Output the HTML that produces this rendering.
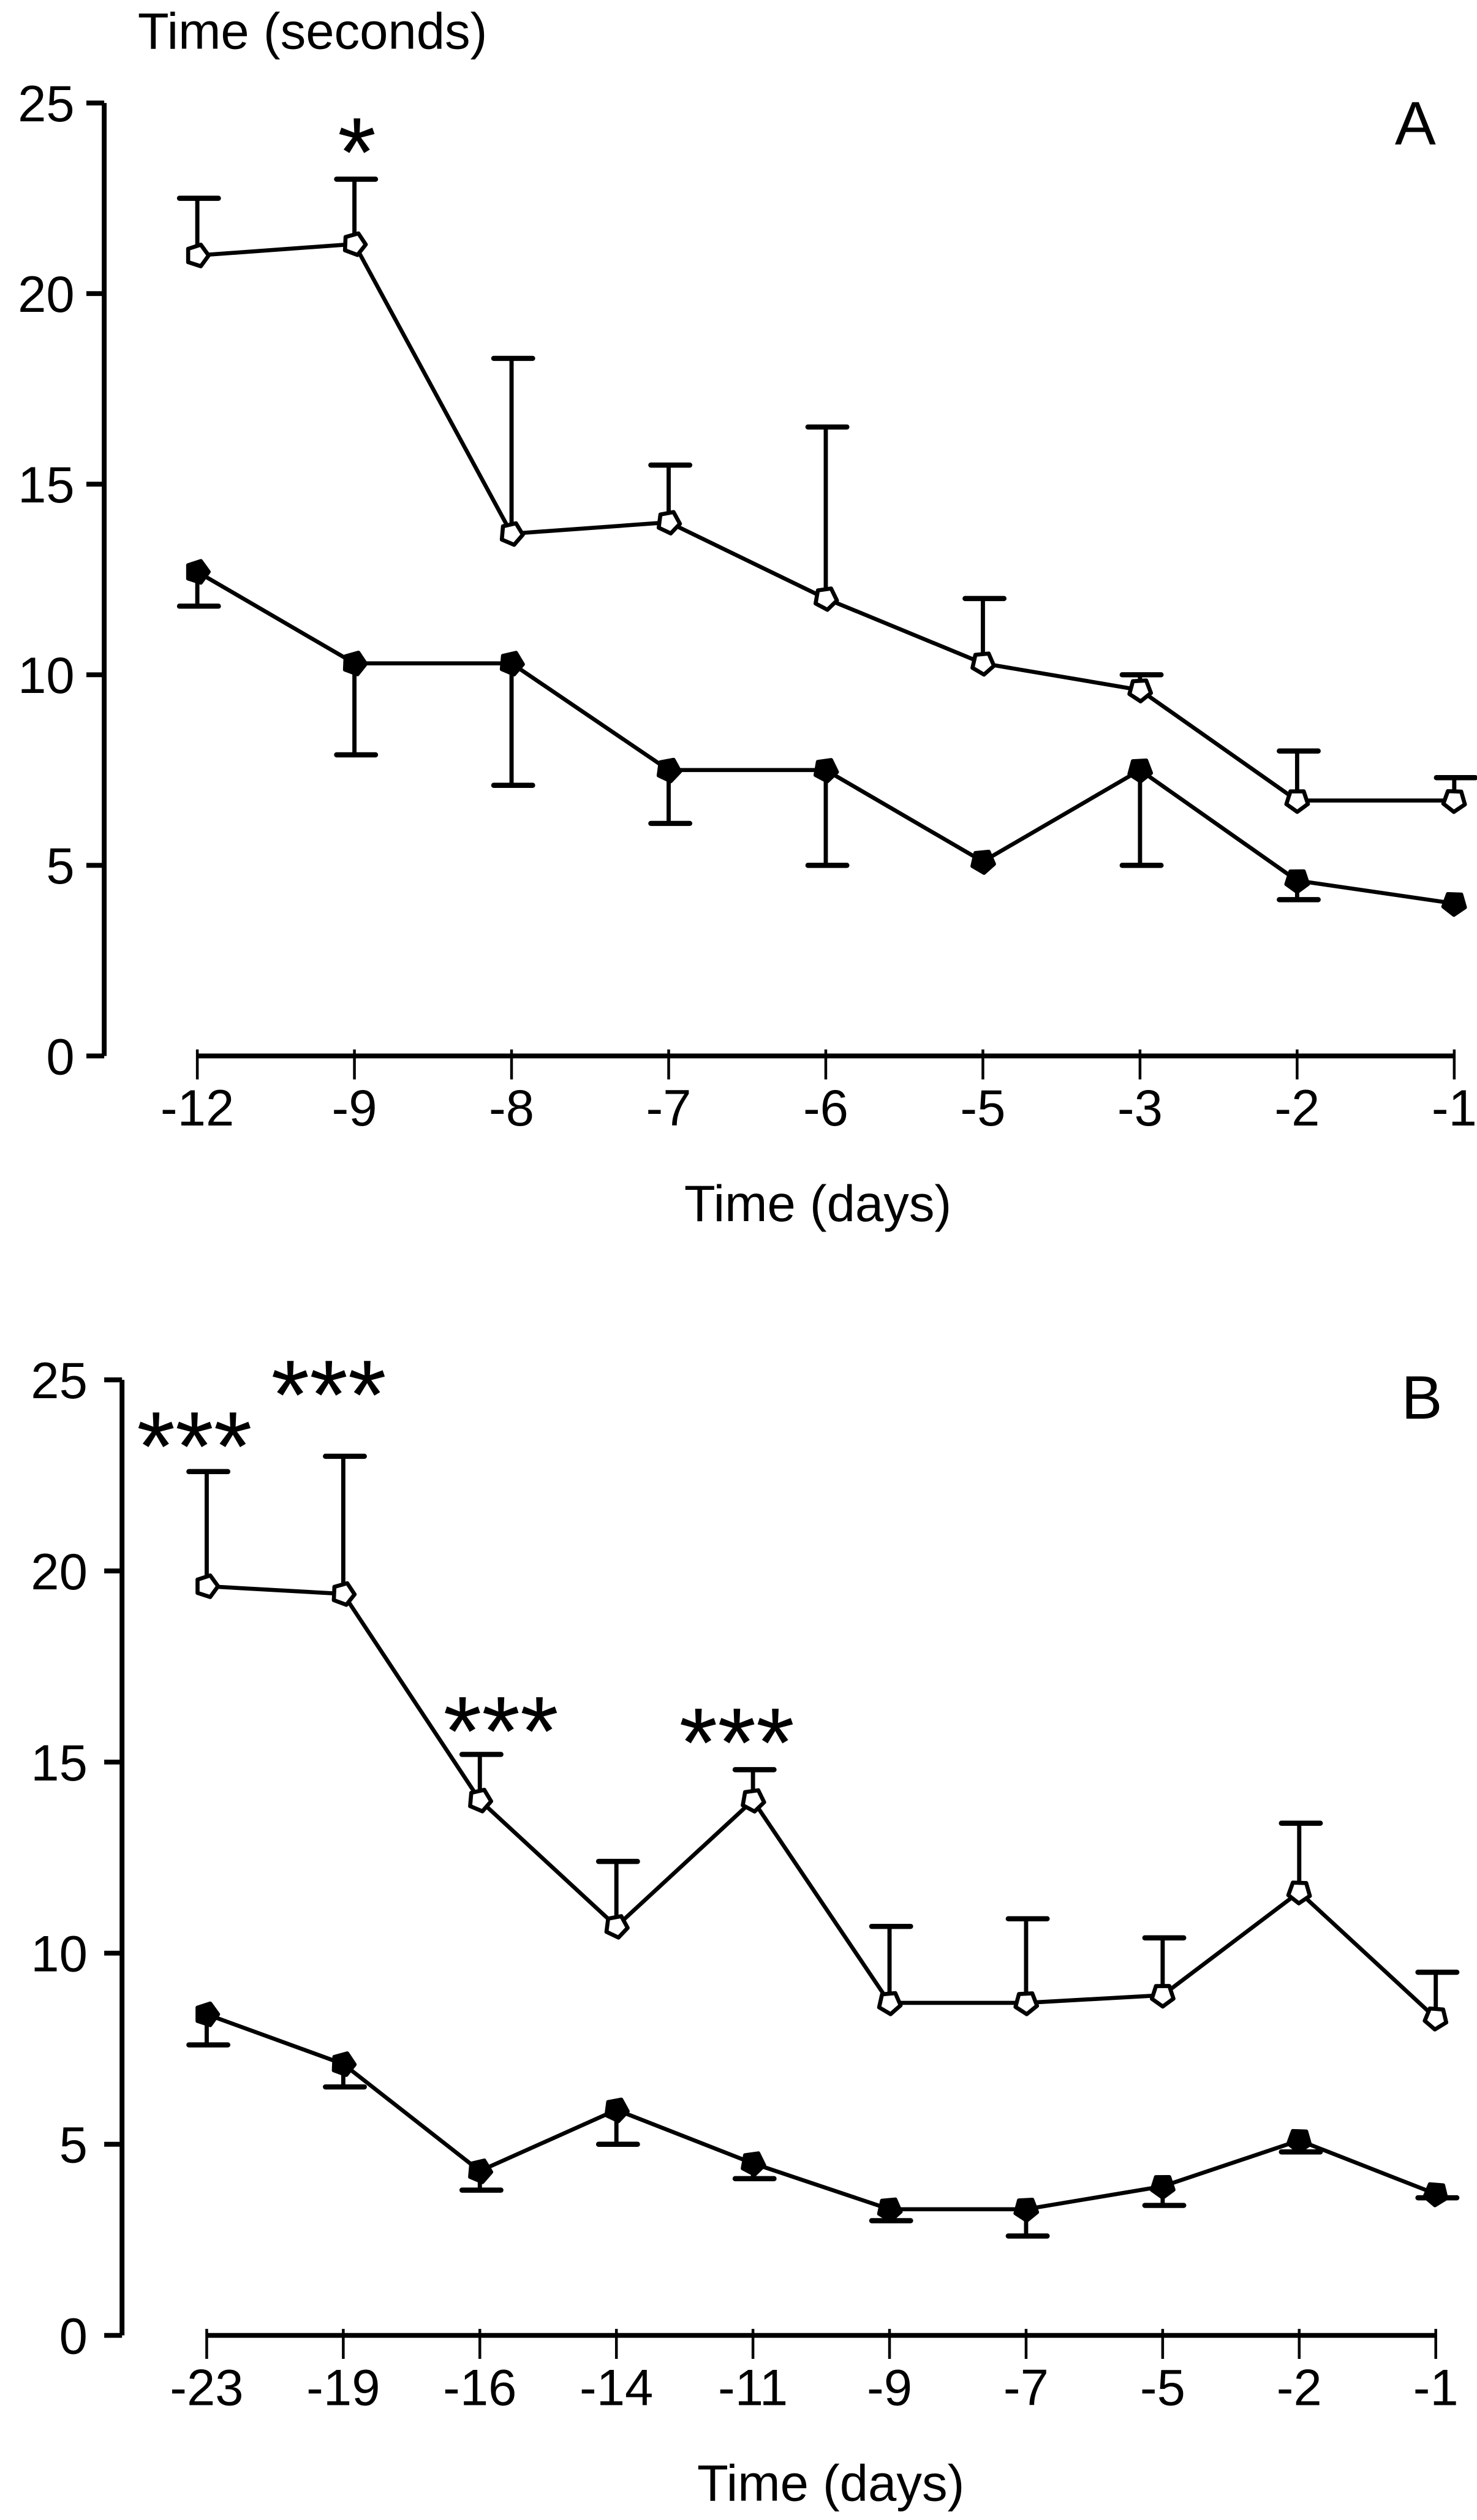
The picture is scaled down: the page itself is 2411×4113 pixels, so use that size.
<!DOCTYPE html>
<html><head><meta charset="utf-8"><style>
html,body{margin:0;padding:0;background:#fff}
svg{display:block}
text{font-family:"Liberation Sans",Arial,sans-serif;fill:#000}
</style></head><body>
<svg id="chart" width="2411" height="4113" viewBox="0 0 912 1556" xmlns="http://www.w3.org/2000/svg"></svg>
<script>
const catsA = ["-12","-9","-8","-7","-6","-5","-3","-2","-1"];
const openA = [21.0,21.3,13.7,14.0,12.0,10.3,9.6,6.7,6.7];
const openAErr = [22.5,23.0,18.3,15.5,16.5,12.0,10.0,8.0,7.3];
const fillA = [12.7,10.3,10.3,7.5,7.5,5.1,7.5,4.6,4.0];
const fillAErr = [11.8,7.9,7.1,6.1,5.0,5.1,5.0,4.1,4.0];
const starsA = ["","*","","","","","","",""];
const starLevelA = [0,24.3,0,0,0,0,0,0,0];

const catsB = ["-23","-19","-16","-14","-11","-9","-7","-5","-2","-1"];
const openB = [19.6,19.4,14.0,10.7,14.0,8.7,8.7,8.9,11.6,8.3];
const openBErr = [22.6,23.0,15.2,12.4,14.8,10.7,10.9,10.4,13.4,9.5];
const fillB = [8.4,7.1,4.3,5.9,4.5,3.3,3.3,3.9,5.1,3.7];
const fillBErr = [7.6,6.5,3.8,5.0,4.1,3.0,2.6,3.4,4.8,3.6];
const starsB = ["***","***","***","","***","","","","",""];
const starLevelB = [23.85,25.2,16.4,0,16.1,0,0,0,0,0];

const yTicks = [0,5,10,15,20,25];
const svg = document.getElementById('chart');
const NS = "http://www.w3.org/2000/svg";
function mk(tag, attrs, parent){const e=document.createElementNS(NS,tag);for(const k in attrs)e.setAttribute(k,attrs[k]);(parent||svg).appendChild(e);return e;}

function pentagon(cx, cy, r, rot){
  const pts=[];
  for(let k=0;k<5;k++){const a=rot+k*2*Math.PI/5;pts.push((cx+r*Math.cos(a)).toFixed(2)+','+(cy+r*Math.sin(a)).toFixed(2));}
  return pts.join(' ');
}

function panel(id, cats, open, openErr, fill, fillErr, stars, starLevel, cfg){
  const g = mk('g',{});
  
  
  const y = v => cfg.y0 + (cfg.y25 - cfg.y0) * v / 25;
  const x = i => cfg.x0 + (cfg.x1 - cfg.x0) * i / (cats.length - 1);
  const ya = mk('line',{x1:cfg.ax,y1:y(25),x2:cfg.ax,y2:y(0),stroke:'#000','stroke-width':3},g);
  
  
  yTicks.forEach(t=>{
    mk('line',{x1:cfg.ax-11,y1:y(t),x2:cfg.ax,y2:y(t),stroke:'#000','stroke-width':3},g);
    const tx = mk('text',{x:cfg.labR,y:y(t)+11.3,'text-anchor':'end','font-size':31.5},g);
    tx.textContent = t;
    
    
  });
  const xa = mk('line',{x1:x(0),y1:cfg.y0,x2:x(cats.length-1),y2:cfg.y0,stroke:'#000','stroke-width':3},g);
  
  
  cats.forEach((c,i)=>{
    mk('line',{x1:x(i),y1:cfg.y0-4,x2:x(i),y2:cfg.y0+14.5,stroke:'#000','stroke-width':1.7},g);
    const tx = mk('text',{x:x(i),y:cfg.y0+43,'text-anchor':'middle','font-size':31.5},g);
    tx.textContent = c;
    
    
  });
  function err(vals, errs, name){
    vals.forEach((v,i)=>{
      if (Math.abs(errs[i]-v) < 0.05) return;
      const eg = mk('g',{},g);
      
      
      mk('line',{x1:x(i),y1:y(v),x2:x(i),y2:y(errs[i]),stroke:'#000','stroke-width':2.6},eg);
      mk('line',{x1:x(i)-11,y1:y(errs[i]),x2:x(i)+13,y2:y(errs[i]),stroke:'#000','stroke-width':3.2,'stroke-linecap':'round'},eg);
    });
  }
  err(open, openErr, 'error-bar-open');
  err(fill, fillErr, 'error-bar-filled');
  function series(vals, filled, name){
    const p = mk('polyline',{points:vals.map((v,i)=>x(i)+','+y(v)).join(' '),fill:'none',stroke:'#000','stroke-width':2.5,'stroke-linejoin':'round'},g);
    
    
    vals.forEach((v,i)=>{
      const c = mk('polygon',{points:pentagon(x(i),y(v),7,(i*1.3)%6.28),fill:filled?'#000':'#fff',stroke:'#000','stroke-width':2.5,'stroke-linejoin':'round'},g);
      
      
    });
  }
  series(open,false,'open-series');
  series(fill,true,'filled-series');
  stars.forEach((s,i)=>{
    if(!s) return;
    const t = mk('text',{x:x(i)+cfg.starDx[i],y:y(starLevel[i])+35,'text-anchor':'middle','font-size':61},g);
    t.textContent = s;
    
    
  });
  const lab = mk('text',{x:cfg.labX,y:cfg.labY,'text-anchor':'middle','font-size':38},g);
  lab.textContent = id;
  
  
  const xt = mk('text',{x:cfg.xTitleX,y:cfg.xTitleY,'text-anchor':'middle','font-size':31.5},g);
  xt.textContent = 'Time (days)';
  
  
}
panel('A', catsA, openA, openAErr, fillA, fillAErr, starsA, starLevelA,
  {ax:64.3,labR:46,y0:652,y25:63.6,x0:121.8,x1:898,starDx:[0,1.5,0,0,0,0,0,0,0],labX:874,labY:89,xTitleX:505,xTitleY:754});
panel('B', catsB, openB, openBErr, fillB, fillBErr, starsB, starLevelB,
  {ax:75.3,labR:54,y0:1442,y25:852,x0:127.6,x1:886.6,starDx:[-7.6,-9,13,0,-10,0,0,0,0,0],labX:878,labY:876,xTitleX:513,xTitleY:1544});
const tt = document.createElementNS(NS,'text');
tt.setAttribute('x',85);tt.setAttribute('y',30);tt.setAttribute('font-size',31.5);
tt.textContent='Time (seconds)';


svg.appendChild(tt);
</script>
</body></html>
